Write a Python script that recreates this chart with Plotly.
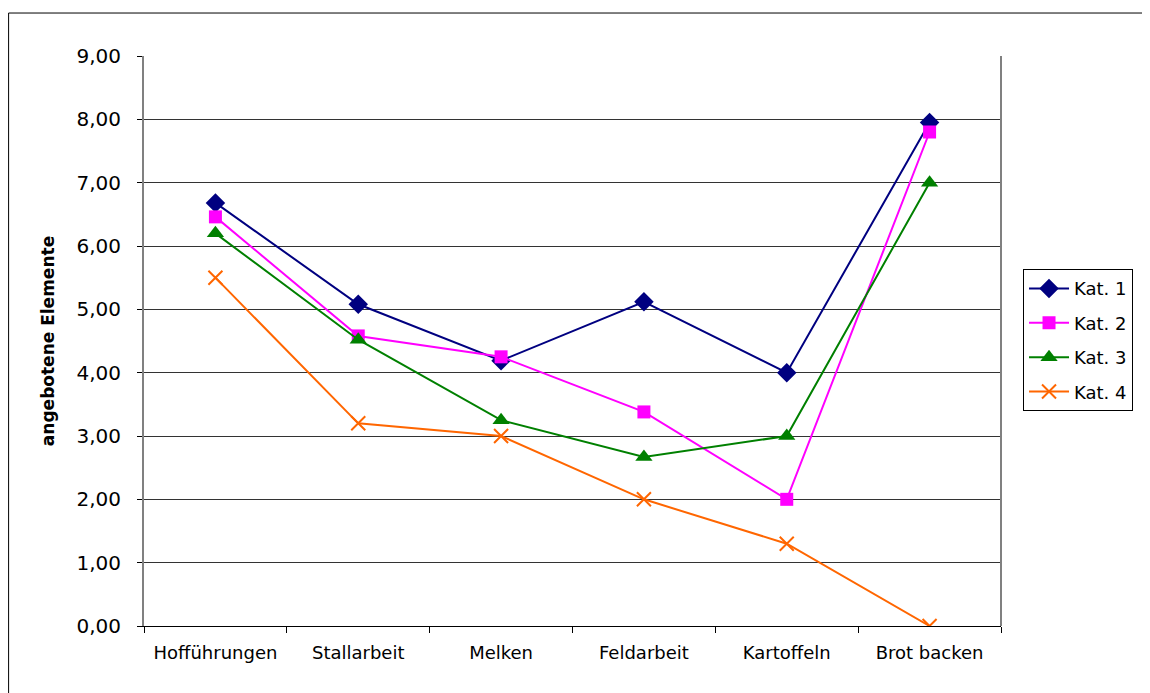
import plotly.graph_objects as go

categories = ["Hofführungen", "Stallarbeit", "Melken", "Feldarbeit", "Kartoffeln", "Brot backen"]
kat1 = [6.68, 5.08, 4.19, 5.12, 4.00, 7.95]
kat2 = [6.46, 4.58, 4.25, 3.38, 2.00, 7.80]
kat3 = [6.20, 4.52, 3.25, 2.67, 3.00, 7.00]
kat4 = [5.50, 3.20, 3.00, 2.00, 1.30, 0.00]
series_names = ["Kat. 1", "Kat. 2", "Kat. 3", "Kat. 4"]
y_ticks = [0, 1, 2, 3, 4, 5, 6, 7, 8, 9]

colors = ["#000080", "#FF00FF", "#008000", "#FF6600"]
symbols = ["diamond", "square", "triangle-up", "x-thin"]
sizes = [15, 13, 15, 14]

fig = go.Figure()
for name, vals, c, s, sz in zip(series_names, [kat1, kat2, kat3, kat4], colors, symbols, sizes):
    marker = dict(color=c, symbol=s, size=sz)
    if s == "x-thin":
        marker["line"] = dict(color=c, width=2)
    fig.add_trace(go.Scatter(
        x=categories, y=vals, name=name, mode="lines+markers",
        line=dict(color=c, width=2), marker=marker, legendgroup=name,
    ))

fig.update_layout(
    width=1142, height=685,
    margin=dict(l=136, r=149, t=48, b=67),
    paper_bgcolor="white", plot_bgcolor="white",
    separators=",.",
    font=dict(family="DejaVu Sans, sans-serif", size=18, color="black"),
    showlegend=True,
    legend=dict(
        x=1.0257, y=0.626, xanchor="left", yanchor="top",
        bordercolor="black", borderwidth=1, bgcolor="white",
        font=dict(size=18), tracegroupgap=8, itemwidth=40,
    ),
    shapes=[dict(
        type="rect", xref="paper", yref="paper",
        x0=-0.158, x1=1.2, y0=-0.2, y1=1.0754,
        line=dict(color="black", width=1), layer="below",
    ),
    dict(
        type="line", xref="paper", yref="paper",
        x0=1, x1=1, y0=0, y1=1,
        line=dict(color="#808080", width=2),
    )],
)

fig.update_xaxes(
    type="category", range=[-0.5, 5.5],
    showline=True, linecolor="black", linewidth=1,
    ticks="outside", tickson="boundaries", ticklen=6, tickcolor="black",
    showgrid=False, tickfont=dict(size=18), zeroline=False,
    ticklabelstandoff=10,
)
fig.update_yaxes(
    range=[0, 9], tickvals=y_ticks, tickformat=".2f",
    showline=True, linecolor="#808080", linewidth=2,
    ticks="outside", ticklen=5, tickcolor="black",
    showgrid=True, gridcolor="#333333", gridwidth=1,
    zeroline=False, tickfont=dict(size=20), ticklabelstandoff=12,
    title=dict(text="<b>angebotene Elemente</b>", font=dict(size=17), standoff=18),
)

fig.write_html("out.html")
